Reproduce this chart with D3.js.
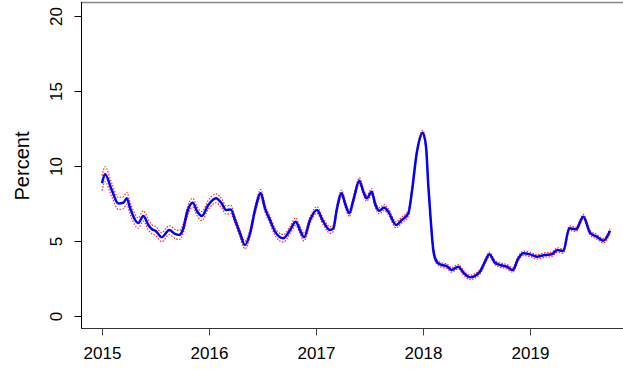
<!DOCTYPE html>
<html>
<head>
<meta charset="utf-8">
<script src="https://cdn.jsdelivr.net/npm/d3@7"></script>
<style>
  html, body { margin: 0; padding: 0; background: #fff; }
  svg { display: block; }
</style>
</head>
<body>
<svg id="chart" width="623" height="369"></svg>
<script>
// ---- data ----
const years = [
  2015.000, 2015.028, 2015.091, 2015.152, 2015.199, 2015.231, 2015.262, 2015.339, 2015.386, 2015.433,
  2015.464, 2015.502, 2015.558, 2015.629, 2015.682, 2015.722, 2015.760, 2015.797, 2015.848, 2015.891,
  2015.932, 2015.993, 2016.065, 2016.119, 2016.159, 2016.203, 2016.243, 2016.290, 2016.336, 2016.383,
  2016.430, 2016.483, 2016.523, 2016.570, 2016.617, 2016.694, 2016.757, 2016.810, 2016.850, 2016.888,
  2016.944, 2017.007, 2017.068, 2017.131, 2017.162, 2017.193, 2017.240, 2017.271, 2017.311, 2017.349,
  2017.405, 2017.442, 2017.474, 2017.521, 2017.551, 2017.592, 2017.636, 2017.676, 2017.748, 2017.801,
  2017.863, 2017.894, 2017.941, 2017.997, 2018.028, 2018.050, 2018.072, 2018.096, 2018.128, 2018.175,
  2018.221, 2018.268, 2018.330, 2018.377, 2018.439, 2018.533, 2018.579, 2018.620, 2018.673, 2018.720,
  2018.782, 2018.838, 2018.891, 2018.937, 2019.000, 2019.063, 2019.140, 2019.203, 2019.255, 2019.311,
  2019.367, 2019.430, 2019.498, 2019.561, 2019.623, 2019.685, 2019.748
];
const percent = [
  8.85, 9.45, 8.4, 7.5, 7.55, 7.85, 7.2, 6.2, 6.67, 6.07,
  5.8, 5.67, 5.25, 5.73, 5.47, 5.4, 5.85, 6.95, 7.55, 6.95,
  6.67, 7.4, 7.85, 7.5, 7.07, 7.1, 6.4, 5.5, 4.73, 5.5,
  7.07, 8.18, 7.18, 6.4, 5.62, 5.18, 5.73, 6.29, 5.73, 5.25,
  6.4, 7.07, 6.29, 5.73, 5.85, 7.07, 8.18, 7.5, 6.85, 7.73,
  9.02, 8.29, 7.85, 8.29, 7.5, 7.02, 7.24, 6.95, 6.07, 6.4,
  6.85, 8.18, 10.85, 12.22, 11.29, 8.62, 6.4, 4.4, 3.62, 3.4,
  3.33, 3.07, 3.29, 2.89, 2.58, 2.96, 3.62, 4.11, 3.55, 3.4,
  3.29, 3.07, 3.84, 4.18, 4.11, 3.95, 4.07, 4.11, 4.4, 4.33,
  5.85, 5.78, 6.62, 5.55, 5.29, 5.02, 5.69
];
// half width of the dotted red band around the line
const bandHalf = [
  0.5, 0.5, 0.45, 0.4, 0.4, 0.4, 0.4, 0.35, 0.35, 0.35,
  0.3, 0.3, 0.3, 0.3, 0.3, 0.3, 0.3, 0.3, 0.3, 0.3,
  0.3, 0.3, 0.3, 0.3, 0.28, 0.28, 0.25, 0.25, 0.25, 0.25,
  0.25, 0.25, 0.25, 0.25, 0.25, 0.25, 0.25, 0.25, 0.25, 0.25,
  0.22, 0.22, 0.22, 0.22, 0.22, 0.22, 0.22, 0.22, 0.22, 0.22,
  0.2, 0.2, 0.2, 0.2, 0.2, 0.2, 0.2, 0.2, 0.2, 0.2,
  0.18, 0.17, 0.16, 0.16, 0.16, 0.15, 0.15, 0.15, 0.15, 0.15,
  0.15, 0.15, 0.15, 0.15, 0.15, 0.15, 0.15, 0.15, 0.15, 0.15,
  0.15, 0.15, 0.15, 0.15, 0.15, 0.15, 0.15, 0.15, 0.15, 0.15,
  0.15, 0.15, 0.15, 0.15, 0.15, 0.15, 0.15
];
const xTicks = [2015, 2016, 2017, 2018, 2019];
const yTicks = [0, 5, 10, 15, 20];
const yLabel = "Percent";

// ---- drawing ----
const svg = d3.select("#chart");
const W = 623, H = 369;
svg.append("rect").attr("width", W).attr("height", H).attr("fill", "#fff");

const x = d3.scaleLinear().domain([2014.81, 2019.94]).range([81.7, 630.6]);
const y = d3.scaleLinear().domain([-0.8, 20.8]).range([328, 4]);

const data = years.map((t, i) => ({ t, v: percent[i], h: bandHalf[i] }));
const curve = d3.curveMonotoneX;

const lineMid = d3.line().x(d => x(d.t)).y(d => y(d.v)).curve(curve);
const lineUp = d3.line().x(d => x(d.t)).y(d => y(d.v + d.h)).curve(curve);
const lineLo = d3.line().x(d => x(d.t)).y(d => y(d.v - d.h)).curve(curve);

const font = "'Liberation Sans', Arial, sans-serif";

// plot box
svg.append("line").attr("x1", 81.5).attr("x2", W).attr("y1", 2.5).attr("y2", 2.5)
  .attr("stroke", "#888").attr("stroke-width", 1.5);
svg.append("line").attr("x1", 81.5).attr("x2", 81.5).attr("y1", 2).attr("y2", 328.5)
  .attr("stroke", "#000").attr("stroke-width", 1);
svg.append("line").attr("x1", 81).attr("x2", W).attr("y1", 328.5).attr("y2", 328.5)
  .attr("stroke", "#333").attr("stroke-width", 1);

// y axis
const yAxis = d3.axisLeft(y).tickValues(yTicks).tickSize(7).tickFormat(d3.format("d"));
const gy = svg.append("g").attr("transform", "translate(81.5,0)").call(yAxis);
gy.select(".domain").remove();
gy.selectAll(".tick line").attr("stroke", "#000");
gy.selectAll(".tick text")
  .attr("transform", "rotate(-90)")
  .attr("x", 0).attr("y", -20).attr("dy", 0)
  .attr("text-anchor", "middle")
  .attr("fill", "#000")
  .style("font-family", font).style("font-size", "17px");

// x axis
const xAxis = d3.axisBottom(x).tickValues(xTicks).tickSize(7).tickFormat(d3.format("d"));
const gx = svg.append("g").attr("transform", "translate(0,328.5)").call(xAxis);
gx.select(".domain").remove();
gx.selectAll(".tick line").attr("stroke", "#444");
gx.selectAll(".tick text")
  .attr("y", 30.5).attr("dy", 0)
  .attr("fill", "#000")
  .style("font-family", font).style("font-size", "17px");

// y label
svg.append("text")
  .attr("transform", `translate(29,${(y(-0.8) + y(20.8)) / 2}) rotate(-90)`)
  .attr("text-anchor", "middle")
  .attr("fill", "#000")
  .style("font-family", font).style("font-size", "20px")
  .text(yLabel);

// bands and main line
svg.append("path").datum(data).attr("d", lineUp)
  .attr("fill", "none").attr("stroke", "#ff0000").attr("stroke-width", 1.2)
  .attr("stroke-dasharray", "1.5,1.5").attr("opacity", 0.85);
svg.append("path").datum(data).attr("d", lineLo)
  .attr("fill", "none").attr("stroke", "#ff0000").attr("stroke-width", 1.2)
  .attr("stroke-dasharray", "1.5,1.5").attr("opacity", 0.85);
svg.append("path").datum(data).attr("d", lineMid)
  .attr("fill", "none").attr("stroke", "#0000ff").attr("stroke-width", 2.5)
  .attr("stroke-linejoin", "round");
</script>
</body>
</html>
